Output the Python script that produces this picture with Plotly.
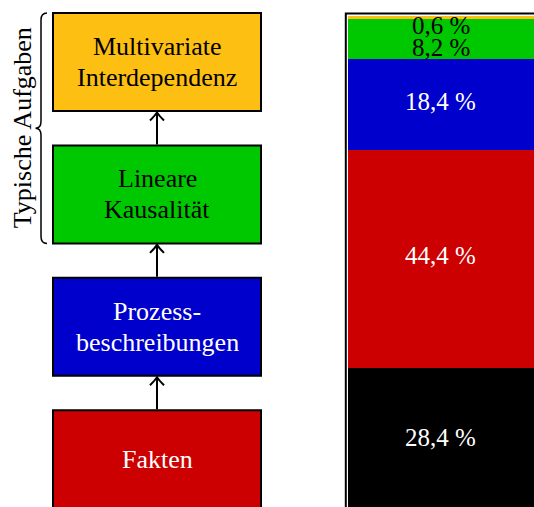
import plotly.graph_objects as go

# Levels of the task hierarchy, bottom to top
box_lines = [["Fakten"], ["Prozess-", "beschreibungen"], ["Lineare", "Kausalität"],
             ["Multivariate", "Interdependenz"]]
box_colors = ["#CC0000", "#0000CC", "#00C800", "#FDBF12"]
box_text_colors = ["white", "white", "black", "black"]

# Share of tasks per level (stacked bar, bottom to top)
bar_levels = ["Sonstige", "Fakten", "Prozessbeschreibungen", "Lineare Kausalität",
              "Multivariate Interdependenz"]
bar_values = [28.4, 44.4, 18.4, 8.2, 0.6]
bar_colors = ["#000000", "#CC0000", "#0000CC", "#00C800", "#FDBF12"]
bar_text_colors = ["white", "white", "white", "black", "black"]
label_shift = [0, 3, 3, -9, -8]

brace_label = "Typische Aufgaben"

FONT = "Liberation Serif"
W, H = 534, 507

fig = go.Figure()

# invisible anchor trace for the diagram canvas (pixel-like coordinates)
fig.add_trace(go.Scatter(x=[0, W], y=[0, H], mode="markers", marker=dict(opacity=0),
                         hoverinfo="skip", showlegend=False, xaxis="x", yaxis="y"))

# stacked bar
for lvl, v, c in zip(bar_levels, bar_values, bar_colors):
    fig.add_trace(go.Bar(x=[0], y=[v], name=lvl, marker=dict(color=c, line=dict(width=0)),
                         width=1, showlegend=False, hoverinfo="skip",
                         xaxis="x2", yaxis="y2"))

shapes = []
annotations = []

# flowchart boxes
box_left, box_right = 53, 261
box_h, box_step, first_top = 98, 132.4, 13
cx = (box_left + box_right) / 2
n = len(box_lines)
tops = [first_top + (n - 1 - i) * box_step for i in range(n)]
for i, (lines, col, tcol) in enumerate(zip(box_lines, box_colors, box_text_colors)):
    t = tops[i]
    b = t + box_h
    shapes.append(dict(type="rect", xref="x", yref="y", x0=box_left, x1=box_right,
                       y0=t, y1=b, fillcolor=col, line=dict(color="black", width=2),
                       layer="above"))
    mid = (t + b) / 2
    if len(lines) == 1:
        ys = [mid]
    else:
        ys = [mid - 15.5, mid + 15.5]
    for txt, yy in zip(lines, ys):
        annotations.append(dict(x=cx, y=yy, xref="x", yref="y", text=txt, showarrow=False,
                                xanchor="center", yanchor="middle",
                                font=dict(family=FONT, size=26, color=tcol)))

# arrows between consecutive boxes
for i in range(n - 1):
    y_from = tops[i] - 1
    y_to = tops[i + 1] + box_h + 1.5
    shapes.append(dict(type="line", xref="x", yref="y", x0=cx, x1=cx, y0=y_from, y1=y_to,
                       line=dict(color="black", width=2)))
    shapes.append(dict(type="path", xref="x", yref="y",
                       path=f"M {cx-7},{y_to+8} Q {cx-2},{y_to+3} {cx},{y_to} "
                            f"Q {cx+2},{y_to+3} {cx+7},{y_to+8}",
                       line=dict(color="black", width=2)))

# curly brace around the upper two levels
bt, bb = tops[3], tops[2] + box_h
bm = (bt + bb) / 2
bx, tip = 41, 35.5
shapes.append(dict(type="path", xref="x", yref="y",
                   path=(f"M {bx+6},{bt} Q {bx},{bt} {bx},{bt+7} L {bx},{bm-7} "
                         f"Q {bx},{bm} {tip},{bm} Q {bx},{bm} {bx},{bm+7} "
                         f"L {bx},{bb-7} Q {bx},{bb} {bx+6},{bb}"),
                   line=dict(color="black", width=1.5)))
annotations.append(dict(x=22, y=bm, xref="x", yref="y", text=brace_label, showarrow=False,
                        textangle=-90, xanchor="center", yanchor="middle",
                        font=dict(family=FONT, size=26, color="black")))

# frame around the bar
shapes.append(dict(type="rect", xref="x", yref="y", x0=345.8, x1=W + 5, y0=13.5, y1=H + 5,
                   line=dict(color="black", width=2), layer="above"))

# percentage labels
base = 0
for v, tcol, dy in zip(bar_values, bar_text_colors, label_shift):
    label = f"{v:.1f}".replace(".", ",") + " %"
    annotations.append(dict(x=0, y=base + v / 2, xref="x2", yref="y2", text=label,
                            showarrow=False, yshift=dy, xanchor="center", yanchor="middle",
                            font=dict(family=FONT, size=25, color=tcol)))
    base += v

hidden = dict(visible=False, showgrid=False, zeroline=False, fixedrange=True)
fig.update_layout(
    width=W, height=H, margin=dict(l=0, r=0, t=0, b=0),
    paper_bgcolor="white", plot_bgcolor="rgba(0,0,0,0)",
    barmode="stack", bargap=0, showlegend=False,
    xaxis=dict(range=[0, W], domain=[0, 1], **hidden),
    yaxis=dict(range=[H, 0], domain=[0, 1], **hidden),
    xaxis2=dict(range=[-0.5, 0.5], domain=[347.5 / W, 1], anchor="y2", **hidden),
    yaxis2=dict(range=[0, 100], domain=[0, (H - 15.7) / H], anchor="x2", **hidden),
    shapes=shapes, annotations=annotations,
)

fig.write_html("out.html")
